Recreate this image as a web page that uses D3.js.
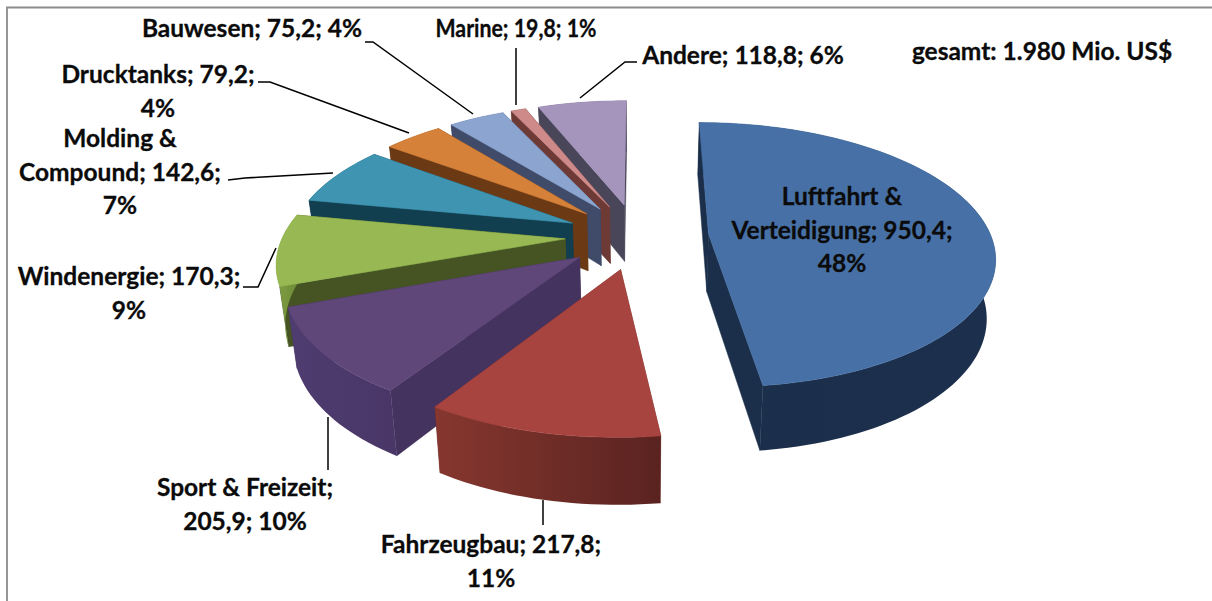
<!DOCTYPE html>
<html>
<head>
<meta charset="utf-8">
<script src="https://cdn.jsdelivr.net/npm/d3@7"></script>
<style>
  html, body { margin: 0; padding: 0; background: #fff; }
  svg { display: block; }
  text { font-family: Lato, "Open Sans", sans-serif; font-weight: 700; fill: #0b0b0b; stroke: #0b0b0b; stroke-width: 0.3; text-anchor: middle; }
</style>
</head>
<body>
<svg id="chart"></svg>
<script>
const categories = ["Luftfahrt & Verteidigung", "Fahrzeugbau", "Sport & Freizeit", "Windenergie", "Molding & Compound", "Drucktanks", "Bauwesen", "Marine", "Andere"];
const values = [950.4, 217.8, 205.9, 170.3, 142.6, 79.2, 75.2, 19.8, 118.8];
const labelLines = [
  ["Luftfahrt &", "Verteidigung; 950,4;", "48%"],
  ["Fahrzeugbau; 217,8;", "11%"],
  ["Sport & Freizeit;", "205,9; 10%"],
  ["Windenergie; 170,3;", "9%"],
  ["Molding &", "Compound; 142,6;", "7%"],
  ["Drucktanks; 79,2;", "4%"],
  ["Bauwesen; 75,2; 4%"],
  ["Marine; 19,8; 1%"],
  ["Andere; 118,8; 6%"]
];
const totalLabel = "gesamt: 1.980 Mio. US$";

const topColors = ["#4771a6", "#a8443f", "#5f4779", "#97b853", "#3f95b1", "#d6813a", "#8ba4d0", "#cd8a88", "#a595bd"];
const radialColors = ["#1b2f4b", "#6a2a26", "#45335f", "#465424", "#123f50", "#6b3a15", "#3f4b68", "#6e3a36", "#4a4659"];
const outerLeft = ["#1b2f4b", "#86372f", "#4f3c70", "#7f9f42", "#123f50", "#6b3a15", "#3f4b68", "#6e3a36", "#4a4659"];
const outerRight = ["#1c304d", "#5a2320", "#4a3768", "#6f8c38", "#123f50", "#6b3a15", "#3f4b68", "#6e3a36", "#4a4659"];

// label anchor (centre x, first baseline) and leader line per slice
const labelPos = [[842, 205], [491, 553], [245, 496], [129, 285], [120, 147], [158, 83], [252, 37], [516, 37], [743, 64]];
const leaders = [
  null,
  [[543, 500], [543, 525]],
  [[328, 417], [328, 470]],
  [[243, 287], [258, 287], [276, 248]],
  [[228, 180], [245, 178], [333, 173]],
  [[258, 82], [270, 82], [409, 133]],
  [[365, 42], [373, 42], [473, 114]],
  [[516, 48], [516, 105]],
  [[637, 62], [625, 62], [580, 98]]
];

const width = 1212, height = 601;
const lineHeight = 33.5;

// 3d pie parameters
const vanishX = 640, groundY = 238;
const radius = 283, explode = 72, pieHeight = 58;
const centerA = -3, centerB = -4;
const tilt = 0.46, camDist = 1800, bottomShrink = 0.975;

const svg = d3.select("#chart").attr("width", width).attr("height", height);

// frame of the chart area, no right or bottom side in the picture
svg.append("path")
  .attr("d", `M7,${height} V7.5 H${width}`)
  .attr("fill", "none")
  .attr("stroke", "#8c8c8c")
  .attr("stroke-width", 1.8);

const pie = d3.pie().sort(null).startAngle(0).endAngle(2 * Math.PI);
const arcs = pie(values);

const line = d3.line();
const defs = svg.append("defs");

// a = right, b = towards the viewer, both in ground units around the vanishing line
function project(a, b, down) {
  const k = 1 / (1 - b / camDist);
  if (down) {
    return [vanishX + a * k * bottomShrink, groundY + b * tilt * k + pieHeight * Math.pow(k, 0.7)];
  }
  return [vanishX + a * k, groundY + b * tilt * k];
}

function ground(angle, r, mid) {
  const a = centerA + explode * Math.sin(mid) + r * Math.sin(angle);
  const b = centerB - explode * Math.cos(mid) - r * Math.cos(angle);
  return [a, b];
}

function arcAngles(d) {
  const n = Math.max(2, Math.ceil((d.endAngle - d.startAngle) / 0.03));
  return d3.range(n + 1).map(i => d.startAngle + (d.endAngle - d.startAngle) * i / n);
}

// back slices first
const order = d3.range(arcs.length).sort((p, q) => {
  const mp = (arcs[p].startAngle + arcs[p].endAngle) / 2;
  const mq = (arcs[q].startAngle + arcs[q].endAngle) / 2;
  return ground(0, 0, mp)[1] - ground(0, 0, mq)[1];
});

const slices = svg.selectAll("g.slice")
  .data(order)
  .enter().append("g")
  .attr("class", "slice")
  .attr("data-name", i => categories[i]);

slices.each(function(i) {
  const d = arcs[i];
  const g = d3.select(this);
  const mid = (d.startAngle + d.endAngle) / 2;
  const apex = ground(0, 0, mid);

  // radial walls
  [d.startAngle, d.endAngle].forEach(ang => {
    const rim = ground(ang, radius, mid);
    g.append("path")
      .attr("d", line([
        project(apex[0], apex[1], false),
        project(rim[0], rim[1], false),
        project(rim[0], rim[1], true),
        project(apex[0], apex[1], true)
      ]) + "Z")
      .attr("fill", radialColors[i])
      .attr("stroke", radialColors[i])
      .attr("stroke-width", 0.5);
  });

  // outer wall, shaded left to right
  const angles = arcAngles(d);
  const rimPts = angles.map(ang => ground(ang, radius, mid));
  const upper = rimPts.map(p => project(p[0], p[1], false));
  const lower = rimPts.map(p => project(p[0], p[1], true)).reverse();
  const xr = d3.extent(upper, p => p[0]);
  const grad = defs.append("linearGradient")
    .attr("id", "outer" + i)
    .attr("gradientUnits", "userSpaceOnUse")
    .attr("x1", xr[0]).attr("x2", xr[1])
    .attr("y1", 0).attr("y2", 0);
  grad.append("stop").attr("offset", "0").attr("stop-color", outerLeft[i]);
  grad.append("stop").attr("offset", "1").attr("stop-color", outerRight[i]);
  g.append("path")
    .attr("d", line(upper.concat(lower)) + "Z")
    .attr("fill", `url(#outer${i})`);

  // top face
  const facePts = [project(apex[0], apex[1], false)].concat(upper);
  g.append("path")
    .attr("d", line(facePts) + "Z")
    .attr("fill", topColors[i])
    .attr("stroke", topColors[i])
    .attr("stroke-width", 0.6);
});

// leader lines
svg.selectAll("path.leader")
  .data(leaders.filter(l => l))
  .enter().append("path")
  .attr("class", "leader")
  .attr("d", d => line(d))
  .attr("fill", "none")
  .attr("stroke", "#000")
  .attr("stroke-width", 1.5);

// labels
const labels = svg.selectAll("text.label")
  .data(labelLines)
  .enter().append("text")
  .attr("class", "label")
  .attr("font-size", 24.5)
  .attr("x", (d, i) => labelPos[i][0])
  .attr("y", (d, i) => labelPos[i][1]);

labels.selectAll("tspan")
  .data(d => d)
  .enter().append("tspan")
  .attr("x", function() { return d3.select(this.parentNode).attr("x"); })
  .attr("dy", (d, i) => i === 0 ? 0 : lineHeight)
  .text(d => d);

// this one runs narrower in the picture than the font gives
labels.filter(d => d[0].startsWith("Marine"))
  .attr("textLength", 161)
  .attr("lengthAdjust", "spacingAndGlyphs");

svg.append("text")
  .attr("x", 1042)
  .attr("y", 60)
  .attr("font-size", 24.5)
  .text(totalLabel);
</script>
</body>
</html>
